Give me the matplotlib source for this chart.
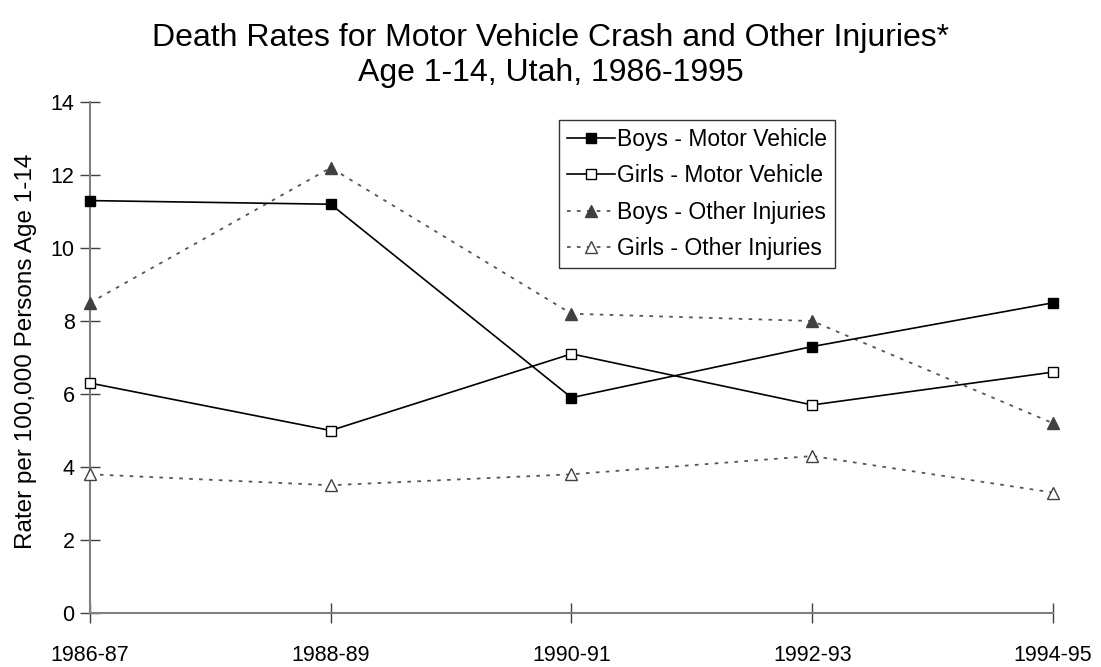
"""
Death rates for motor vehicle crash and other injuries, age 1-14, Utah
"""

import matplotlib.pyplot as plt

plt.rcParams['font.family'] = ['Liberation Sans', 'DejaVu Sans']

# Data
periods = ['1986-87', '1988-89', '1990-91', '1992-93', '1994-95']
boys_motor = [11.3, 11.2, 5.9, 7.3, 8.5]
girls_motor = [6.3, 5.0, 7.1, 5.7, 6.6]
boys_other = [8.5, 12.2, 8.2, 8.0, 5.2]
girls_other = [3.8, 3.5, 3.8, 4.3, 3.3]

x = list(range(len(periods)))

fig = plt.figure(figsize=(11.01, 6.67), dpi=100)
ax = fig.add_axes([0.0817, 0.081, 0.8747, 0.766])

dot = (0, (2, 3.5))
ax.plot(x, boys_motor, color='black', linewidth=1.2, marker='s', markersize=7,
        markerfacecolor='black', markeredgecolor='black', label='Boys - Motor Vehicle', zorder=4)
ax.plot(x, girls_motor, color='black', linewidth=1.2, marker='s', markersize=7,
        markerfacecolor='white', markeredgecolor='black', label='Girls - Motor Vehicle', zorder=4)
ax.plot(x, boys_other, color='#555555', linewidth=1.3, linestyle=dot, marker='^', markersize=8,
        markerfacecolor='#404040', markeredgecolor='#404040', label='Boys - Other Injuries', zorder=3)
ax.plot(x, girls_other, color='#555555', linewidth=1.3, linestyle=dot, marker='^', markersize=8,
        markerfacecolor='white', markeredgecolor='#404040', label='Girls - Other Injuries', zorder=3)

ax.set_xlim(0, len(periods) - 1)
ax.set_ylim(0, 14)
ax.set_xticks(x)
ax.set_xticklabels(periods, fontsize=15.5)
ax.set_yticks(range(0, 15, 2))
ax.tick_params(axis='y', labelsize=15.5)

for side in ['top', 'right']:
    ax.spines[side].set_visible(False)
for side in ['left', 'bottom']:
    ax.spines[side].set_color('#808080')
    ax.spines[side].set_linewidth(1.5)
    ax.spines[side].set_clip_on(False)
ax.tick_params(direction='inout', length=14, width=1, color='#404040')
ax.tick_params(axis='y', pad=4)
ax.tick_params(axis='x', pad=16)

ax.set_ylabel('Rater per 100,000 Persons Age 1-14', fontsize=17.5)
ax.yaxis.set_label_coords(-0.055, 0.513)

fig.suptitle('Death Rates for Motor Vehicle Crash and Other Injuries*\nAge 1-14, Utah, 1986-1995',
             fontsize=23, y=0.965, linespacing=1.2)

leg = ax.legend(loc='upper left', bbox_to_anchor=(0.487, 0.965), fontsize=16.5, frameon=True,
                fancybox=False, edgecolor='black', handlelength=2.1, handletextpad=0.1,
                borderpad=0.35, labelspacing=0.58, borderaxespad=0)
leg.get_frame().set_linewidth(1.0)

for line in ax.get_lines():
    line.set_clip_on(False)

fig.savefig('out.png', dpi=100)
